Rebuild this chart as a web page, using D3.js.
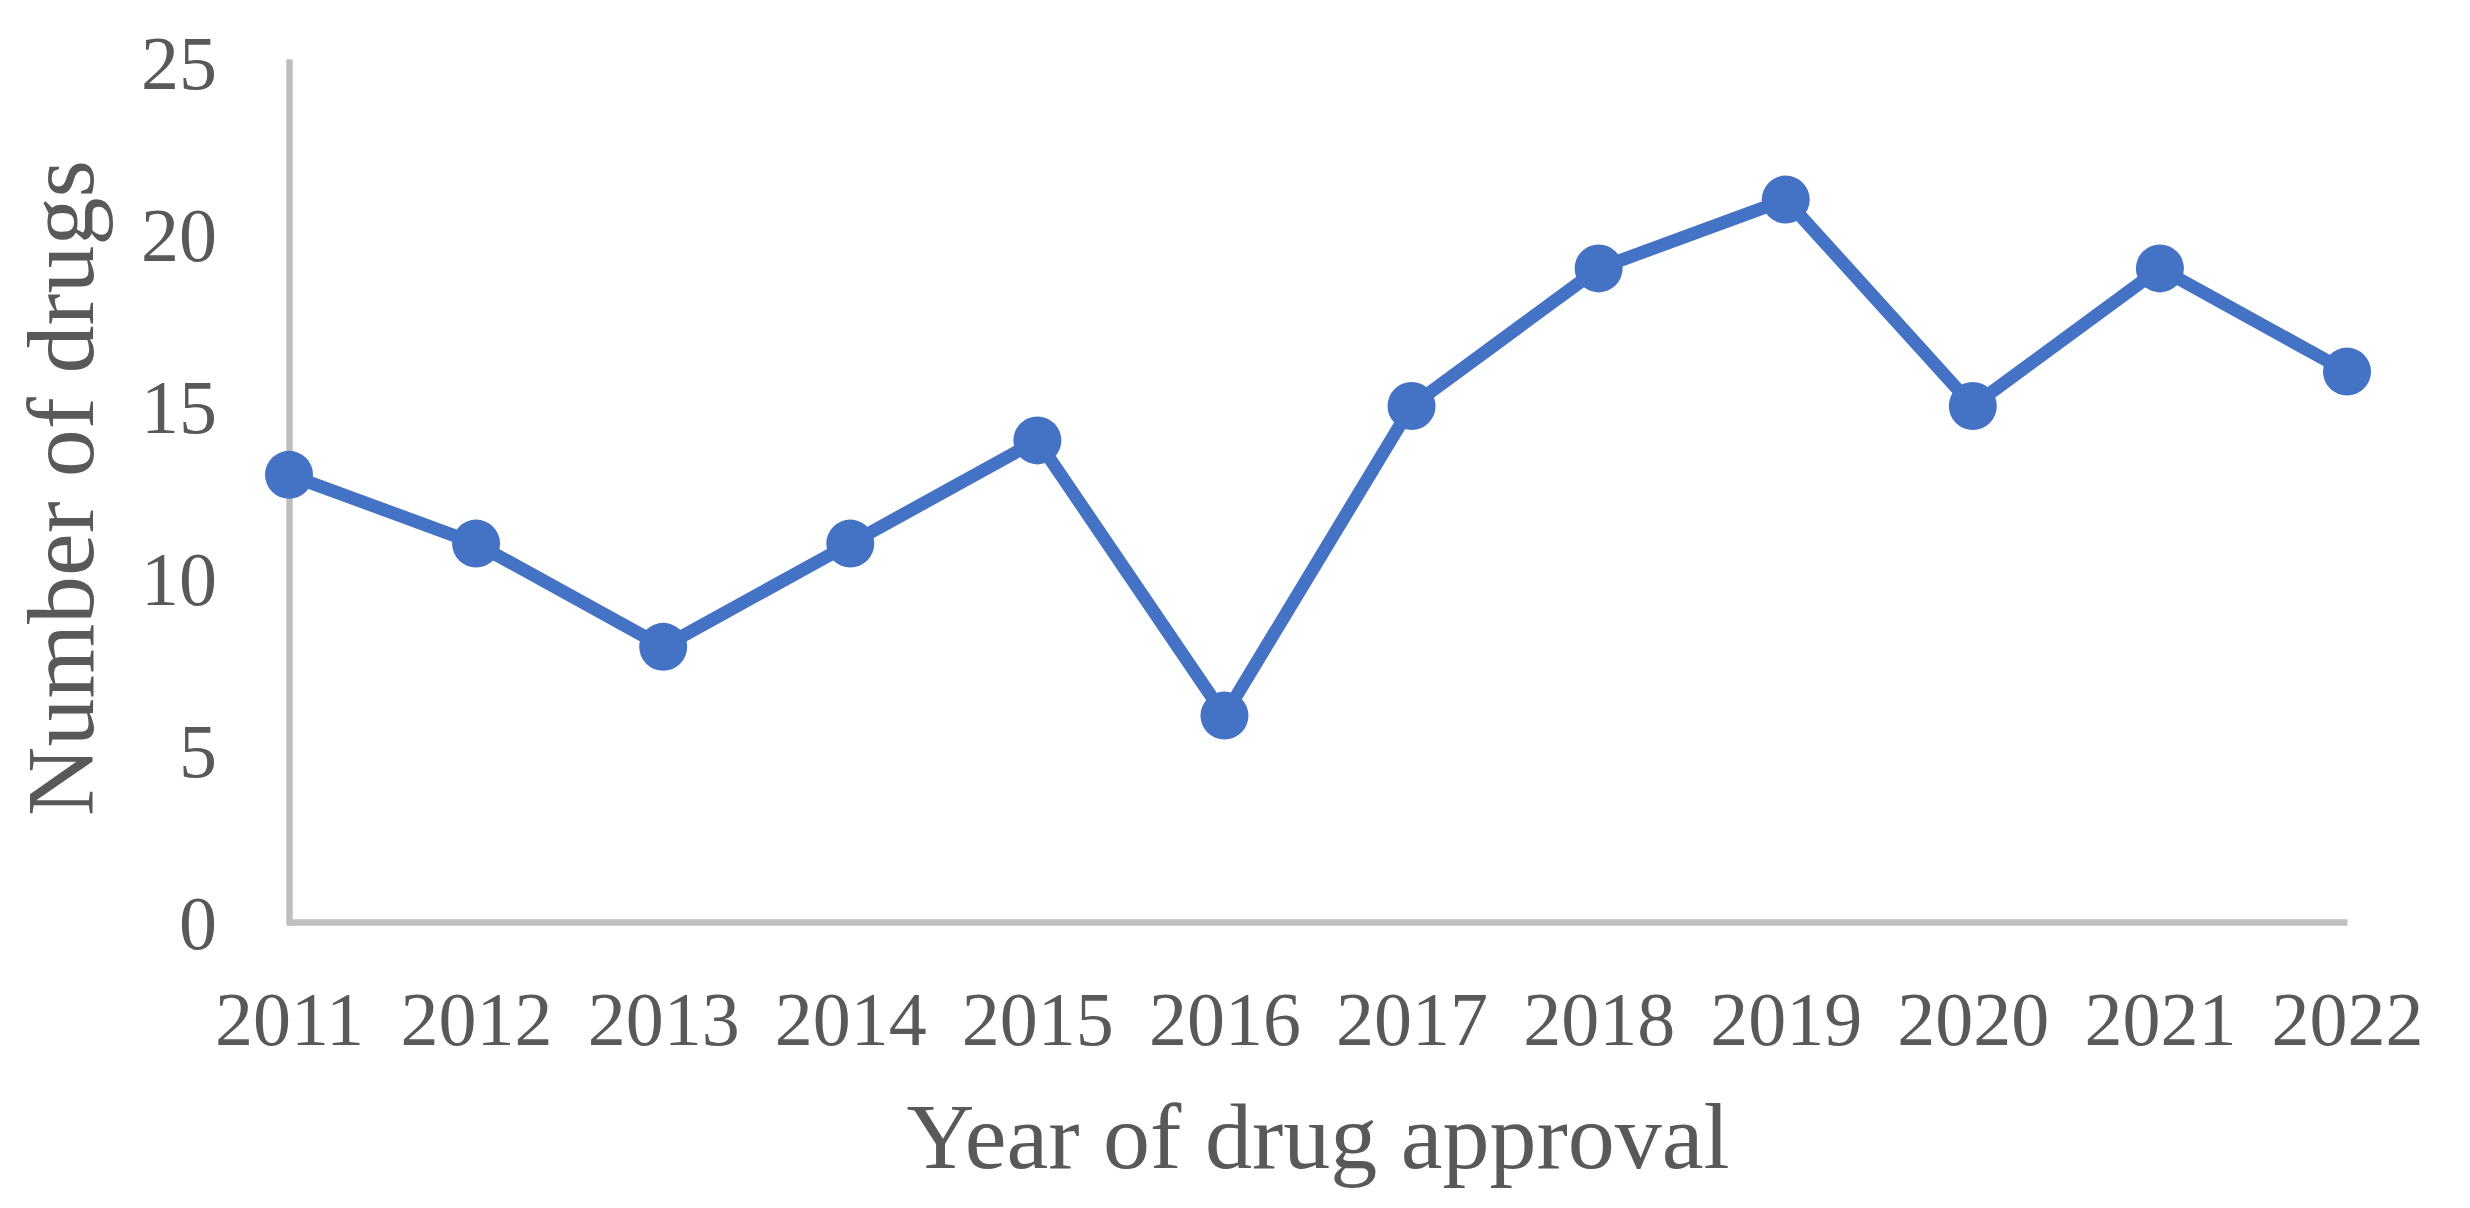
<!DOCTYPE html>
<html lang="en">
<head>
    <meta charset="UTF-8">
    <title>Number of drugs by year of approval</title>
    <script src="https://cdn.jsdelivr.net/npm/d3@7"></script>
    <style>
        body { margin: 0; background: #ffffff; }
        svg { display: block; }
        .axis text {
            font-family: "Liberation Serif", "Times New Roman", serif;
            font-size: 76px;
            fill: #595959;
        }
        .axis path { stroke: #bfbfbf; stroke-width: 6.5; }
        .title {
            font-family: "Liberation Serif", "Times New Roman", serif;
            fill: #595959;
        }
    </style>
</head>
<body>
<svg></svg>
<script>
// chart data
var years = ["2011", "2012", "2013", "2014", "2015", "2016", "2017", "2018", "2019", "2020", "2021", "2022"];
var drugCounts = [13, 11, 8, 11, 14, 6, 15, 19, 21, 15, 19, 16];
var yTicks = [0, 5, 10, 15, 20, 25];

var svgWidth = 2470;
var svgHeight = 1208;
// plot area edges (window.top is reserved, so prefixed names)
var plotLeft = 289, plotRight = 2347, plotTop = 62, plotBottom = 922;
var lineColour = "#4472c4";

var svg = d3.select("svg")
    .attr("width", svgWidth)
    .attr("height", svgHeight);

var xs = d3.scalePoint().domain(years).range([plotLeft, plotRight]);
var ys = d3.scaleLinear().domain([0, 25]).range([plotBottom, plotTop]);

// y axis
var yAxis = svg.append("g")
    .attr("class", "axis")
    .attr("transform", "translate(" + plotLeft + ",0)")
    .call(d3.axisLeft(ys).tickValues(yTicks).tickSize(0).tickSizeOuter(0));
yAxis.selectAll(".tick text")
    .attr("x", -72)
    .attr("dy", "0.35em");
yAxis.select(".domain").attr("stroke-linecap", "square");

// x axis
var xAxis = svg.append("g")
    .attr("class", "axis")
    .attr("transform", "translate(0," + plotBottom + ")")
    .call(d3.axisBottom(xs).tickSize(0).tickSizeOuter(0));
xAxis.selectAll(".tick text")
    .attr("y", 123)
    .attr("dy", null);

// line + markers
var data = years.map(function(y, i) { return {year: y, value: drugCounts[i]}; });

svg.append("path")
    .datum(data)
    .attr("fill", "none")
    .attr("stroke", lineColour)
    .attr("stroke-width", 13)
    .attr("stroke-linejoin", "round")
    .attr("d", d3.line()
        .x(function(d) { return xs(d.year); })
        .y(function(d) { return ys(d.value); }));

svg.append("g")
    .selectAll("circle")
    .data(data)
    .enter()
    .append("circle")
        .attr("cx", function(d) { return xs(d.year); })
        .attr("cy", function(d) { return ys(d.value); })
        .attr("r", 24)
        .attr("fill", lineColour);

// axis titles
svg.append("text")
    .attr("class", "title")
    .attr("x", (plotLeft + plotRight) / 2)
    .attr("y", 1168)
    .attr("text-anchor", "middle")
    .style("font-size", "94px")
    .text("Year of drug approval");

svg.append("text")
    .attr("class", "title")
    .attr("transform", "translate(93,488) rotate(-90)")
    .attr("text-anchor", "middle")
    .style("font-size", "96px")
    .text("Number of drugs");
</script>
</body>
</html>
